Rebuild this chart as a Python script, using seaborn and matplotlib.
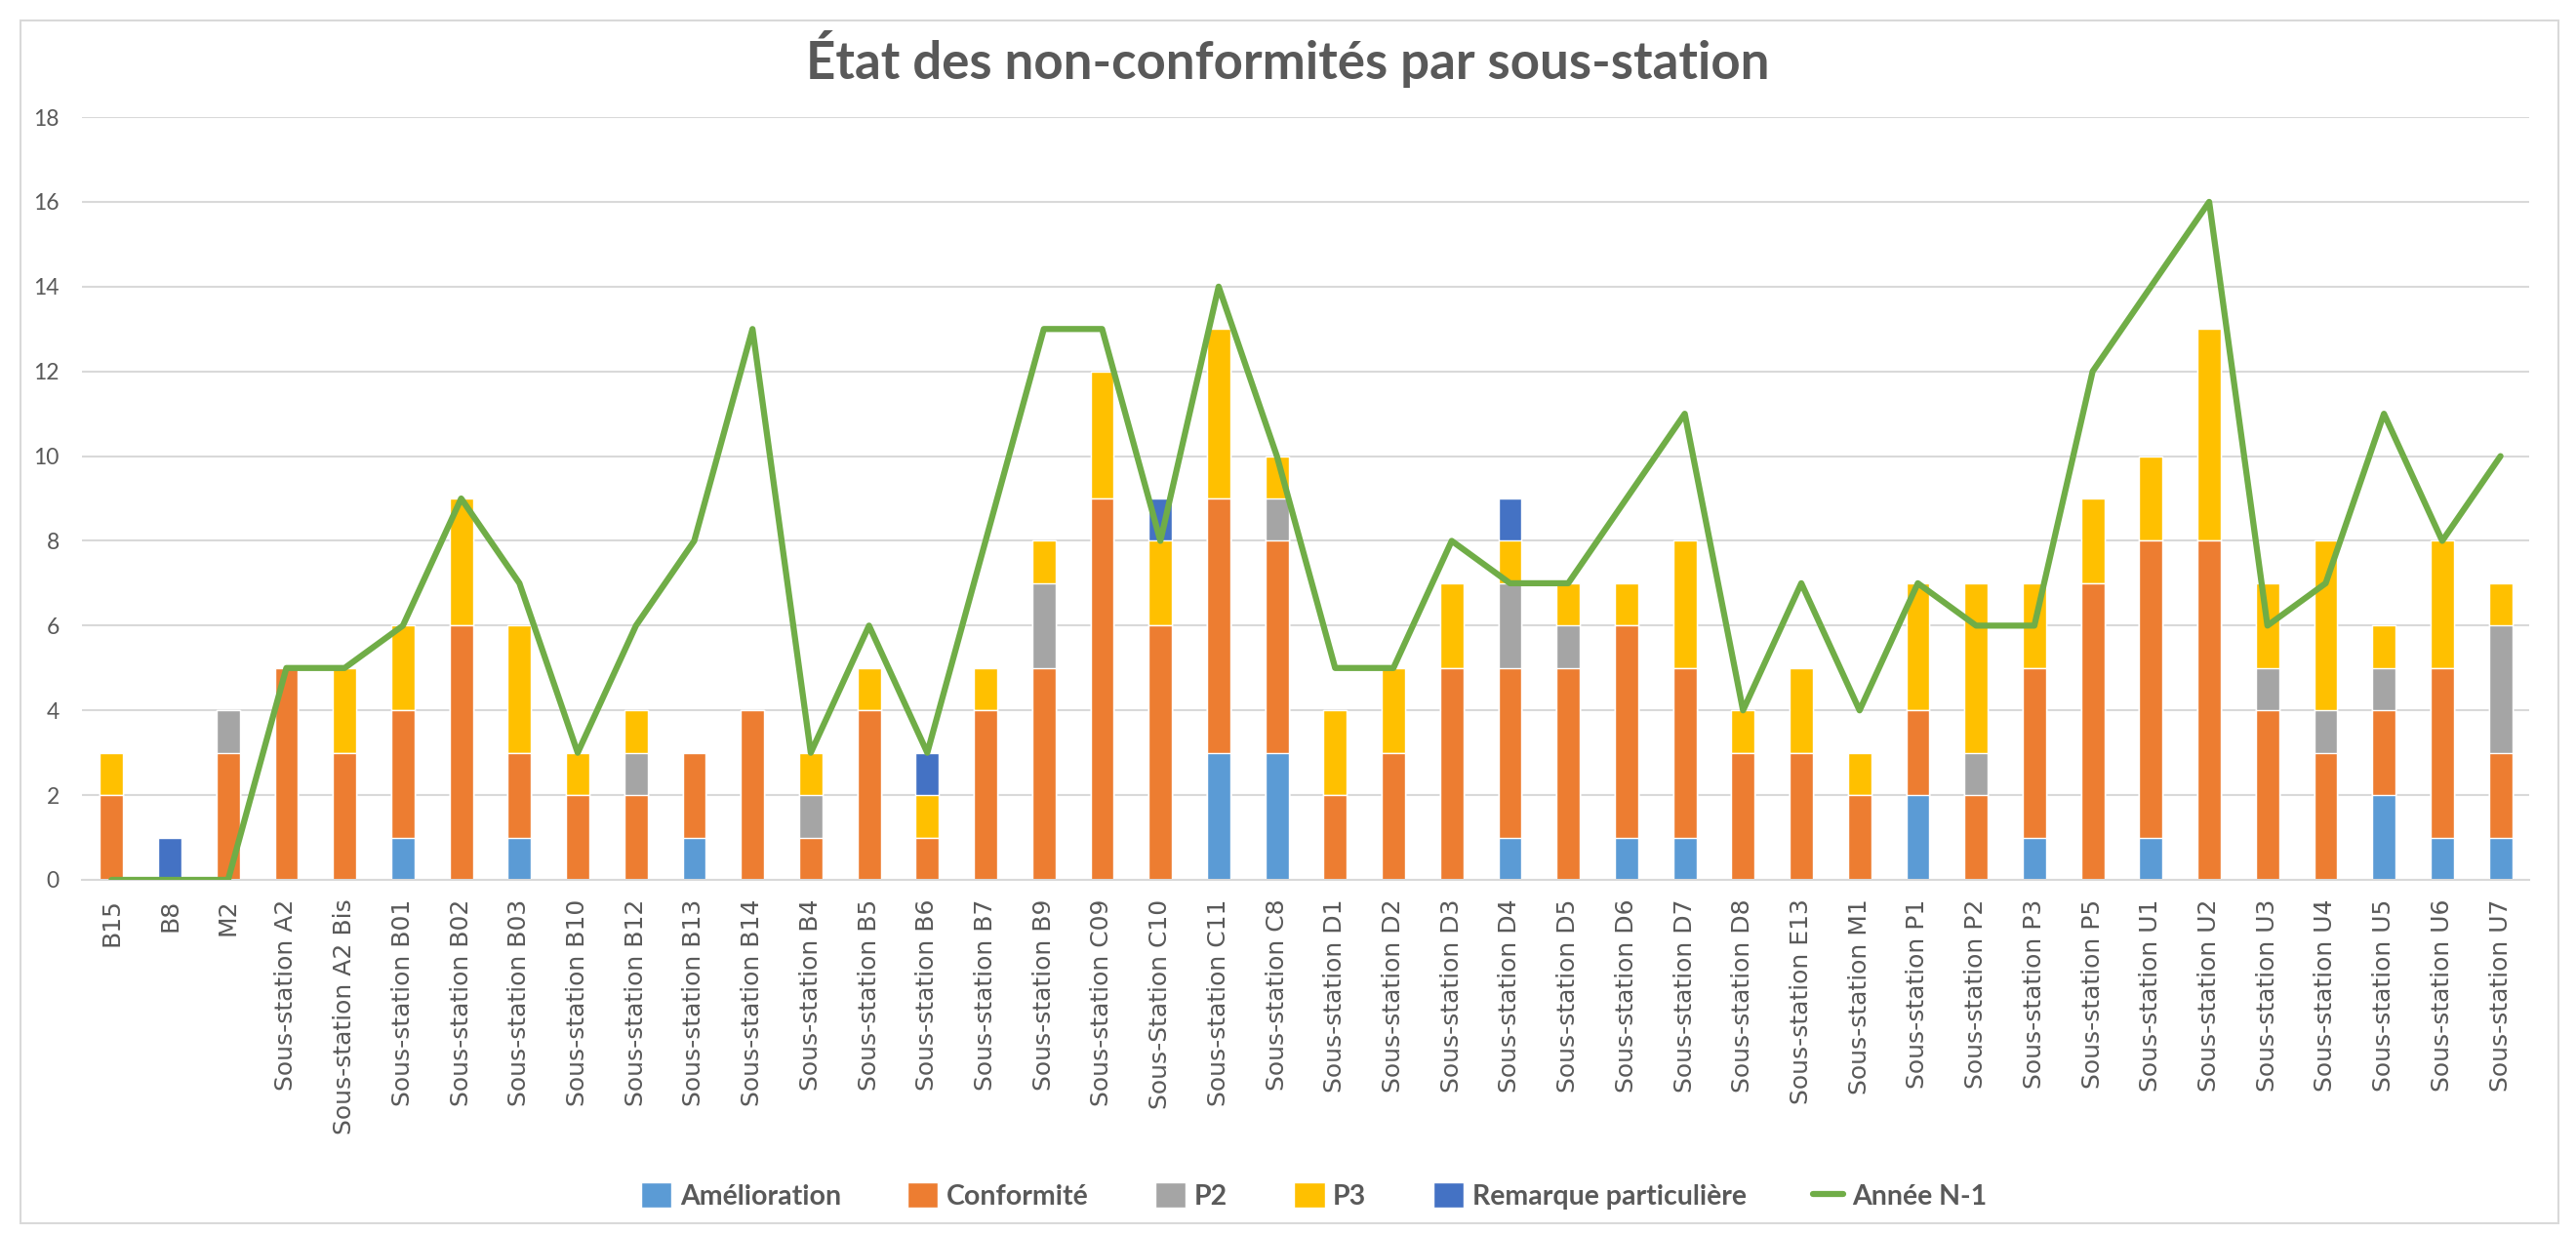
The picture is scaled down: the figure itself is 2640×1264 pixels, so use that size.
import numpy as np
import pandas as pd
import seaborn as sns
import matplotlib.pyplot as plt
from matplotlib.patches import Patch, Rectangle
from matplotlib.lines import Line2D

# Data
stations = [
    "B15", "B8", "M2", "Sous-station A2", "Sous-station A2 Bis",
    "Sous-station B01", "Sous-station B02", "Sous-station B03", "Sous-station B10",
    "Sous-station B12", "Sous-station B13", "Sous-station B14", "Sous-station B4",
    "Sous-station B5", "Sous-station B6", "Sous-station B7", "Sous-station B9",
    "Sous-station C09", "Sous-Station C10", "Sous-station C11", "Sous-station C8",
    "Sous-station D1", "Sous-station D2", "Sous-station D3", "Sous-station D4",
    "Sous-station D5", "Sous-station D6", "Sous-station D7", "Sous-station D8",
    "Sous-station E13", "Sous-station M1", "Sous-station P1", "Sous-station P2",
    "Sous-station P3", "Sous-station P5", "Sous-station U1", "Sous-station U2",
    "Sous-station U3", "Sous-station U4", "Sous-station U5", "Sous-station U6",
    "Sous-station U7",
]
amelioration = [0, 0, 0, 0, 0, 1, 0, 1, 0, 0, 1, 0, 0, 0, 0, 0, 0, 0, 0, 3, 3,
                0, 0, 0, 1, 0, 1, 1, 0, 0, 0, 2, 0, 1, 0, 1, 0, 0, 0, 2, 1, 1]
conformite = [2, 0, 3, 5, 3, 3, 6, 2, 2, 2, 2, 4, 1, 4, 1, 4, 5, 9, 6, 6, 5,
              2, 3, 5, 4, 5, 5, 4, 3, 3, 2, 2, 2, 4, 7, 7, 8, 4, 3, 2, 4, 2]
p2 = [0, 0, 1, 0, 0, 0, 0, 0, 0, 1, 0, 0, 1, 0, 0, 0, 2, 0, 0, 0, 1,
      0, 0, 0, 2, 1, 0, 0, 0, 0, 0, 0, 1, 0, 0, 0, 0, 1, 1, 1, 0, 3]
p3 = [1, 0, 0, 0, 2, 2, 3, 3, 1, 1, 0, 0, 1, 1, 1, 1, 1, 3, 2, 4, 1,
      2, 2, 2, 1, 1, 1, 3, 1, 2, 1, 3, 4, 2, 2, 2, 5, 2, 4, 1, 3, 1]
remarque = [0, 1, 0, 0, 0, 0, 0, 0, 0, 0, 0, 0, 0, 0, 1, 0, 0, 0, 1, 0, 0,
            0, 0, 0, 1, 0, 0, 0, 0, 0, 0, 0, 0, 0, 0, 0, 0, 0, 0, 0, 0, 0]
annee_n1 = [0, 0, 0, 5, 5, 6, 9, 7, 3, 6, 8, 13, 3, 6, 3, 8, 13, 13, 8, 14, 10,
            5, 5, 8, 7, 7, 9, 11, 4, 7, 4, 7, 6, 6, 12, 14, 16, 6, 7, 11, 8, 10]

series = ["Amélioration", "Conformité", "P2", "P3", "Remarque particulière"]
colors = ["#5B9BD5", "#ED7D31", "#A5A5A5", "#FFC000", "#4472C4"]
line_color = "#70AD47"
text_color = "#595959"

df = pd.DataFrame({"station": stations, "Amélioration": amelioration,
                   "Conformité": conformite, "P2": p2, "P3": p3,
                   "Remarque particulière": remarque})
cum = df[series].cumsum(axis=1)

sns.set_style("white")
plt.rcParams["font.family"] = ["Lato", "DejaVu Sans"]

fig = plt.figure(figsize=(26.4, 12.64), dpi=100)
ax = fig.add_axes([0.032, 0.2864, 0.95, 0.6186])

# stacked bars: draw the cumulative totals from the top segment down
for name, col in zip(series[::-1], colors[::-1]):
    sns.barplot(x=df["station"], y=cum[name], color=col, width=0.4,
                saturation=1, ax=ax, zorder=2)

sns.lineplot(x=np.arange(len(stations)), y=annee_n1, color=line_color,
             linewidth=4.5, sort=False, ax=ax, zorder=3)

ax.set_ylim(0, 18)
ax.set_yticks(range(0, 19, 2))
ax.set_xlim(-0.5, len(stations) - 0.5)
ax.set_xticks(range(len(stations)))
ax.set_xticklabels(stations, rotation=90, fontfamily="DejaVu Sans",
                   fontsize=18, color=text_color)
ax.set_xlabel("")
ax.set_ylabel("")
ax.yaxis.grid(True, color="#D9D9D9", linewidth=1.5)
ax.set_axisbelow(True)
for s in ["top", "right", "left"]:
    ax.spines[s].set_visible(False)
ax.spines["bottom"].set_color("#D9D9D9")
ax.spines["bottom"].set_linewidth(1.5)
ax.tick_params(axis="both", length=0, colors=text_color)
ax.tick_params(axis="y", labelsize=16.5, pad=17)
ax.tick_params(axis="x", pad=14)

fig.text(0.5, 0.952, "État des non-conformités par sous-station", ha="center",
         va="center", fontsize=38, fontweight="bold", color=text_color)

handles = [Patch(facecolor=c, label=n) for n, c in zip(series, colors)]
handles.append(Line2D([0], [0], color=line_color, linewidth=4.5, label="Année N-1"))
fig.legend(handles=handles, loc="center", bbox_to_anchor=(0.51, 0.03), ncol=6,
           frameon=False, handlelength=1.1, handleheight=1.0, columnspacing=2.4,
           handletextpad=0.3, prop={"weight": "bold", "size": 20.5},
           labelcolor=text_color)

fig.add_artist(Rectangle((0.008, 0.008), 0.985, 0.975, transform=fig.transFigure,
                         fill=False, edgecolor="#D9D9D9", linewidth=1.5))

fig.savefig("out.png", dpi=100)
